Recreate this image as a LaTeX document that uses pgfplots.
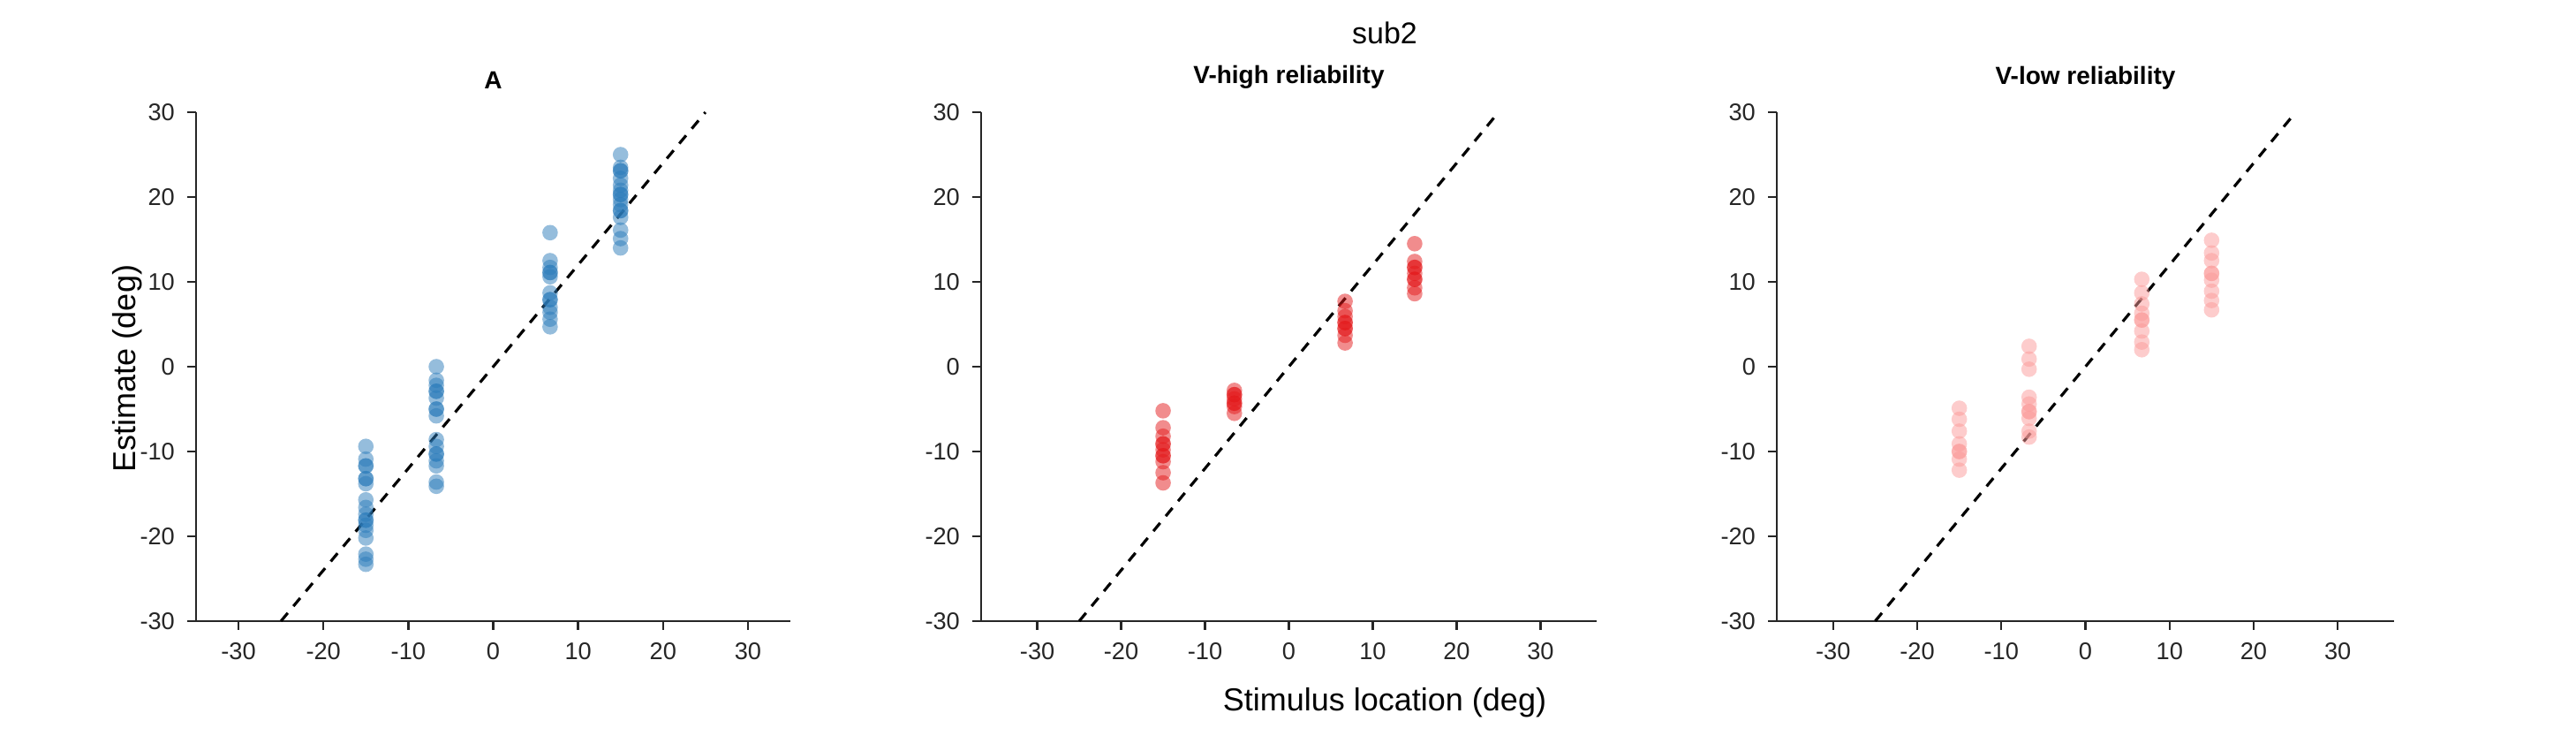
\documentclass[border=0pt]{standalone}
\usepackage{pgfplots}
\pgfplotsset{compat=1.18}
\usepackage{fontspec}
\setmainfont{Liberation Sans}
\definecolor{cA}{HTML}{2B7BBA}
\definecolor{cV}{HTML}{E31A1C}
\definecolor{cL}{HTML}{FB9A99}
\pgfplotsset{
 base/.style={scale only axis, anchor=south west, axis lines=left, axis line style={-, line width=0.6pt, black!85},
  ymin=-30, ymax=30, ytick={-30,-20,...,30}, xtick={-30,-20,...,30},
  tick align=outside, tick style={black!85, line width=0.6pt}, major tick length=2.5pt,
  ticklabel style={font=\fontsize{6.8}{8}\selectfont, black!85}, /pgf/number format/assume math mode=true,
  title style={font=\fontsize{7}{8}\selectfont\bfseries, yshift=-3pt},
  clip=false},
 pts/.style={only marks, mark=*, mark size=2.2pt, color=#1, mark options={draw opacity=0, fill=#1, fill opacity=0.5}},
}
\begin{document}
\begin{tikzpicture}
\useasboundingbox (0,0) rectangle (729.25pt,208.25pt);
\node[font=\fontsize{8.5}{9}\selectfont] at (392pt,199pt) {sub2};
\node[font=\fontsize{9}{10}\selectfont] at (392pt,9.5pt) {Stimulus location (deg)};
\node[font=\fontsize{9}{10}\selectfont, rotate=90] at (36pt,104pt) {Estimate (deg)};
\begin{axis}[base, at={(55.5pt,32.5pt)}, width=168.25pt, height=144pt, xmin=-35, xmax=35, title={A}]
\addplot[pts=cA] coordinates {
(-15,-9.4)(-15,-10.9)(-15,-11.7)(-15,-11.7)(-15,-13.2)(-15,-13.2)(-15,-13.8)(-15,-15.7)(-15,-16.6)(-15,-17.4)(-15,-18.1)(-15,-18.1)(-15,-18.7)(-15,-19.3)(-15,-20.2)(-15,-22.1)(-15,-22.7)(-15,-23.3)
(-6.7,0)(-6.7,-1.6)(-6.7,-2.2)(-6.7,-2.9)(-6.7,-2.9)(-6.7,-3.7)(-6.7,-5)(-6.7,-5)(-6.7,-5.8)(-6.7,-8.6)(-6.7,-9.4)(-6.7,-10.3)(-6.7,-10.3)(-6.7,-11.1)(-6.7,-11.7)(-6.7,-13.6)(-6.7,-14.1)
(6.7,15.8)(6.7,12.5)(6.7,11.7)(6.7,11.1)(6.7,11.1)(6.7,10.6)(6.7,8.7)(6.7,7.9)(6.7,7.9)(6.7,7)(6.7,6.4)(6.7,5.6)(6.7,4.7)
(15,25)(15,23.5)(15,23.1)(15,23.1)(15,22.2)(15,21.4)(15,20.8)(15,20.3)(15,20.3)(15,19.7)(15,19.1)(15,18.4)(15,18.4)(15,17.6)(15,16.1)(15,15.1)(15,14)
};
\addplot[black, line width=0.8pt, dash pattern=on 3pt off 2.5pt] coordinates {(-25,-30)(25,30)};
\end{axis}
\begin{axis}[base, at={(277.75pt,32.5pt)}, width=174.25pt, height=144pt, xmin=-36.7, xmax=36.7, title={V-high reliability}]
\addplot[pts=cV] coordinates {
(-15,-5.2)(-15,-7.2)(-15,-8.2)(-15,-9.1)(-15,-9.1)(-15,-9.8)(-15,-10.5)(-15,-10.5)(-15,-11.2)(-15,-12.5)(-15,-13.7)
(-6.5,-2.8)(-6.5,-3.3)(-6.5,-3.3)(-6.5,-3.8)(-6.5,-4.3)(-6.5,-4.3)(-6.5,-4.7)(-6.5,-5.5)
(6.7,7.7)(6.7,6.6)(6.7,5.9)(6.7,5.2)(6.7,5.2)(6.7,4.5)(6.7,4.5)(6.7,3.7)(6.7,2.8)
(15,14.5)(15,12.4)(15,11.7)(15,11.7)(15,11)(15,10.3)(15,10.3)(15,9.3)(15,8.6)
};
\addplot[black, line width=0.8pt, dash pattern=on 3pt off 2.5pt] coordinates {(-25,-30)(25,30)};
\end{axis}
\begin{axis}[base, at={(503pt,32.5pt)}, width=174.75pt, height=144pt, xmin=-36.7, xmax=36.7, title={V-low reliability}]
\addplot[pts=cL] coordinates {
(-15,-4.9)(-15,-6.2)(-15,-7.6)(-15,-9.1)(-15,-10)(-15,-10)(-15,-10.9)(-15,-12.2)
(-6.7,2.4)(-6.7,0.9)(-6.7,-0.3)(-6.7,-3.6)(-6.7,-4.4)(-6.7,-5.3)(-6.7,-5.3)(-6.7,-6.1)(-6.7,-7.6)(-6.7,-8.3)
(6.7,10.3)(6.7,8.7)(6.7,7.4)(6.7,6.3)(6.7,5.5)(6.7,5.5)(6.7,4.2)(6.7,2.9)(6.7,2)
(15,14.9)(15,13.4)(15,12.5)(15,11)(15,11)(15,10.2)(15,8.9)(15,7.8)(15,6.7)
};
\addplot[black, line width=0.8pt, dash pattern=on 3pt off 2.5pt] coordinates {(-25,-30)(25,30)};
\end{axis}
\end{tikzpicture}
\end{document}
